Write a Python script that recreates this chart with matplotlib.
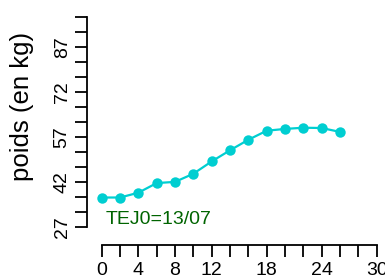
import matplotlib
matplotlib.use("Agg")
import matplotlib.pyplot as plt

# weekly weights
days = [0, 2, 4, 6, 8, 10, 12, 14, 16, 18, 20, 22, 24, 26]
weights = [36.9, 36.9, 38.5, 41.7, 42.1, 44.8, 48.9, 52.6, 56.1, 59.1, 59.7, 60.1, 60.0, 58.7]

x_ticks = list(range(0, 31, 2))
x_labels = ["0", "", "4", "", "8", "", "12", "", "", "18", "", "", "24", "", "", "30"]
y_ticks = list(range(27, 98, 5))
y_labels = [str(v) if (v - 27) % 15 == 0 else "" for v in y_ticks]

W, H = 385, 275
fig = plt.figure(figsize=(W / 100, H / 100), dpi=100)
left, right, top, bottom = 86.7, 376.7, 16.7, 244.5
ax = fig.add_axes([left / W, 1 - bottom / H, (right - left) / W, (bottom - top) / H])

plt.rcParams["font.family"] = "Liberation Sans"

ax.plot(days, weights, color="#00CED1", linewidth=1.6, marker="o",
        markersize=7.5, markeredgewidth=0, zorder=3, clip_on=False)

ax.set_xlim(-15 / (275 / 30), 30)
ax.set_ylim(27 - (bottom - 227.3) / (210.6 / 70), 97)

for s in ("top", "right"):
    ax.spines[s].set_visible(False)
ax.spines["left"].set_bounds(27, 97)
ax.spines["bottom"].set_bounds(0, 30)
for s in ("left", "bottom"):
    ax.spines[s].set_linewidth(1.3)

ax.set_xticks(x_ticks)
ax.set_xticklabels(x_labels, fontsize=14, family="Liberation Sans")
ax.set_yticks(y_ticks)
ax.set_yticklabels(y_labels, fontsize=14, family="Liberation Sans",
                   rotation=90, va="center")
ax.tick_params(axis="both", direction="out", length=8.5, width=1.3, pad=3)
ax.tick_params(axis="x", pad=4)

# y label placed in pixel coords to match the reference (centred high)
fig.text(22.5 / W, 1 - 106 / H, "poids (en kg)", fontsize=18.5,
         family="Liberation Sans", rotation=90, ha="center", va="center")

ax.text(0.45, 28.2, "TEJ0=13/07", color="#006400", fontsize=14,
        family="Liberation Sans", ha="left", va="baseline")

fig.savefig("out.png", dpi=100)
